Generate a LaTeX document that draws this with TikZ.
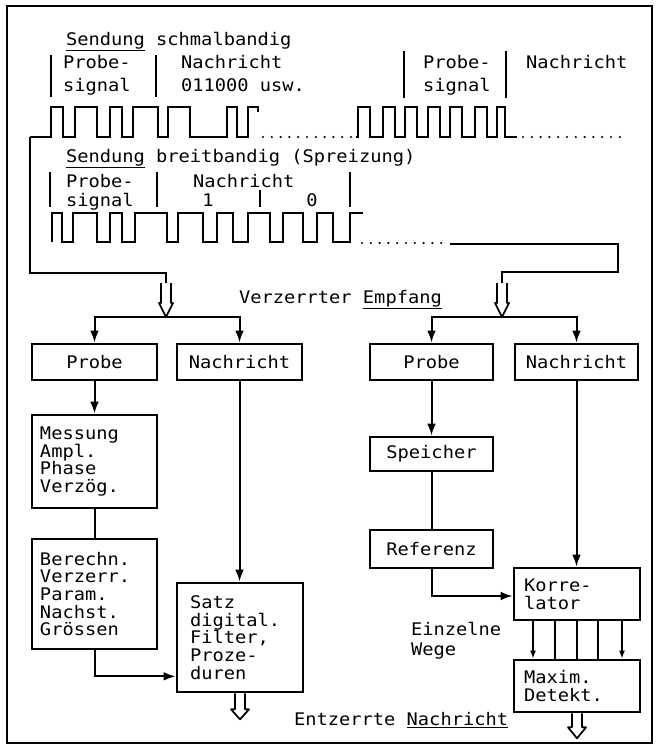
\documentclass[tikz,border=0pt]{standalone}
\usepackage{fontspec}
\usetikzlibrary{arrows.meta}
\newfontfamily\typw[FakeStretch=1.08]{DejaVu Sans Mono}

\tikzset{every picture/.style={line width=1.5pt}}
\tikzset{
  txt/.style={anchor=base west, inner sep=0pt, font=\typw\fontsize{13}{13.2}\selectfont},
  blk/.style={draw, line width=2pt, inner sep=0pt, font=\typw\fontsize{13}{13.2}\selectfont},
  blkl/.style={blk, align=left, text width=#1},
  arr/.style={-{Latex[length=9pt,width=6.5pt]}},
  wave/.style={line width=2.2pt, line join=miter},
  dots/.style={line width=1.8pt, line cap=round, dash pattern=on 0pt off 6.6pt},
  sep/.style={line width=1.2pt},
  hol/.style={line width=1.3pt, line join=round},
}

\begin{document}
\begin{tikzpicture}[x=0.75pt,y=0.75pt,yscale=-1,xscale=1]
\useasboundingbox (0,0) rectangle (657,754);

%Frame
\draw (7,6) rectangle (652,743);

% Text Node
\node[txt] (sendA) at (65,45) {\underline{Sendung} schmalbandig};
\node[txt] (probA1) at (62,68) {Probe-};
\node[txt] (probA2) at (62,91) {signal};
\node[txt] (nachA1) at (180,68) {Nachricht};
\node[txt] (nachA2) at (180,91) {011000 usw.};
\node[txt] (probB1) at (422,68) {Probe-};
\node[txt] (probB2) at (422,91) {signal};
\node[txt] (nachB1) at (525,68) {Nachricht};
%Separators
\draw[sep] (51,55) -- (51,97);
\draw[sep] (156,55) -- (156,97);
\draw[sep] (404,51) -- (404,98);
\draw[sep] (506,51) -- (506,98);

%Waveform schmalbandig
\coordinate (w1) at (30,137);
\draw[wave] (w1) -- (51,137) -- (51,107) -- (63,107) -- (63,137) -- (75,137) -- (75,107) -- (97,107) -- (97,137) -- (110,137) -- (110,107) -- (122,107) -- (122,137) -- (133,137) -- (133,107) -- (158,107) -- (158,137) -- (168,137) -- (168,107) -- (190,107) -- (190,137) -- (227,137) -- (227,107) -- (237,107) -- (237,137) -- (248,137) -- (248,107) -- (258,107) -- (258,112);
\draw[dots] (263,137) -- (352,137);
\draw[wave] (356,137) -- (358,137) -- (358,107) -- (370,107) -- (370,137) -- (383,137) -- (383,107) -- (395,107) -- (395,137) -- (405,137) -- (405,107) -- (417,107) -- (417,137) -- (428,137) -- (428,107) -- (440,107) -- (440,137) -- (450,137) -- (450,107) -- (462,107) -- (462,137) -- (475,137) -- (475,107) -- (487,107) -- (487,137) -- (497,137) -- (497,107) -- (505,107) -- (505,137) -- (517,137);
\draw[dots] (523,137) -- (620,137);

% Text Node
\node[txt] (sendB) at (65,162) {\underline{Sendung} breitbandig (Spreizung)};
\node[txt] (probC1) at (65,187) {Probe-};
\node[txt] (probC2) at (65,206) {signal};
\node[txt] (nachC1) at (192,187) {Nachricht};
\node[txt, anchor=base] (bitC1) at (208,206) {1};
\node[txt, anchor=base] (bitC0) at (312,206) {0};
%Separators
\draw[sep] (50,172) -- (50,207);
\draw[sep] (157,172) -- (157,207);
\draw[sep] (260,190) -- (260,207);
\draw[sep] (350,172) -- (350,207);

%Waveform breitbandig
\draw[wave] (52,242) -- (52,213) -- (62,213) -- (62,242) -- (73,242) -- (73,213) -- (97,213) -- (97,242) -- (110,242) -- (110,213) -- (122,213) -- (122,242) -- (135,242) -- (135,213) -- (167,213) -- (167,242) -- (178,242) -- (178,213) -- (203,213) -- (203,242) -- (217,242) -- (217,213) -- (233,213) -- (233,242) -- (248,242) -- (248,213) -- (270,213) -- (270,242) -- (283,242) -- (283,213) -- (303,213) -- (303,242) -- (317,242) -- (317,213) -- (333,213) -- (333,242) -- (350,242) -- (350,213) -- (363,213);
\draw[dots] (362,243) -- (445,243);

%Feed lines
\coordinate (kL) at (166,273);
\coordinate (inL) at (166,283);
\coordinate (brL) at (166,317);
\draw (w1) |- (kL) -- (inL);
\coordinate (w2e) at (450,244);
\coordinate (kR) at (618,272);
\coordinate (inR) at (502,283);
\coordinate (brR) at (502,317);
\draw (w2e) -| (kR) -| (inR);

%Hollow arrows
\draw[hol] (inL) ++(-5,0) -- ++(0,20) -- ++(-2,0) -- (brL) -- ++(7,-14) -- ++(-2,0) -- ++(0,-20);
\draw[hol] (inR) ++(-5,0) -- ++(0,20) -- ++(-2,0) -- (brR) -- ++(7,-14) -- ++(-2,0) -- ++(0,-20);

% Text Node
\node[txt] (empf) at (238,303) {Verzerrter \underline{Empfang}};

%Blocks left
\node[blk, minimum width=93.75pt, minimum height=27pt] (probeL) at (94.5,362) {Probe};
\node[blk, minimum width=93.75pt, minimum height=27pt] (nachrL) at (239.5,362) {Nachricht};
\node[blkl=81.75pt, inner xsep=6pt, minimum height=69.75pt] (messung) at (94.5,461.5) {Messung\\Ampl.\\Phase\\Verzög.};
\node[blkl=81.75pt, inner xsep=6pt, minimum height=82.5pt] (berechn) at (94.5,594) {Berechn.\\Verzerr.\\Param.\\Nachst.\\Grössen};
\node[blkl=75pt, inner xsep=9.75pt, minimum height=81.75pt] (satz) at (240,637.5) {Satz\\digital.\\Filter,\\Proze-\\duren};

%Blocks right
\node[blk, minimum width=92.25pt, minimum height=27pt] (probeR) at (431.5,362) {Probe};
\node[blk, minimum width=92.25pt, minimum height=27pt] (nachrR) at (576.5,362) {Nachricht};
\node[blk, minimum width=92.25pt, minimum height=25.5pt] (speich) at (431.5,454) {Speicher};
\node[blk, minimum width=92.25pt, minimum height=28.5pt] (refer) at (431.5,549) {Referenz};
\node[blkl=79.5pt, inner xsep=7.5pt, minimum height=39pt] (korrel) at (577,594) {Korre-\\lator};
\node[blkl=79.5pt, inner xsep=7.5pt, minimum height=39pt] (maxim) at (577,686) {Maxim.\\Detekt.};

%Connectors left
\draw[arr] (brL) -| (probeL.north);
\draw[arr] (brL) -| (nachrL.north);
\draw[arr] (probeL) -- (messung);
\draw (messung) -- (berechn);
\draw[arr] (berechn.south) |- ([yshift=-12.75pt]satz.south west);
\draw[arr] (nachrL) -- (nachrL |- satz.north);

%Connectors right
\draw[arr] (brR) -| (probeR.north);
\draw[arr] (brR) -| (nachrR.north);
\draw[arr] (probeR) -- (speich);
\draw (speich) -- (refer);
\draw[arr] (refer.south) |- ([yshift=1.5pt]korrel.west);
\draw[arr] (nachrR) -- (nachrR |- korrel.north);
\draw[arr, -{Latex[length=6pt,width=4.5pt]}] (korrel.south -| 533,0) -- (maxim.north -| 533,0);
\draw (korrel.south -| 555,0) -- (maxim.north -| 555,0);
\draw (korrel.south -| 577,0) -- (maxim.north -| 577,0);
\draw (korrel.south -| 598,0) -- (maxim.north -| 598,0);
\draw[arr, -{Latex[length=6pt,width=4.5pt]}] (korrel.south -| 622,0) -- (maxim.north -| 622,0);

% Text Node
\node[txt] (einz1) at (410,635) {Einzelne};
\node[txt] (einz2) at (410,655) {Wege};
\node[txt] (entz) at (293,725) {Entzerrte \underline{Nachricht}};

%Output arrows
\draw[hol] (satz.south) ++(-5,0) -- ++(0,16) -- ++(-4,0) -- ++(9,10) -- ++(9,-10) -- ++(-4,0) -- ++(0,-16);
\draw[hol] (maxim.south) ++(-5,0) -- ++(0,14) -- ++(-4,0) -- ++(9,11) -- ++(9,-11) -- ++(-4,0) -- ++(0,-14);

\end{tikzpicture}
\end{document}
